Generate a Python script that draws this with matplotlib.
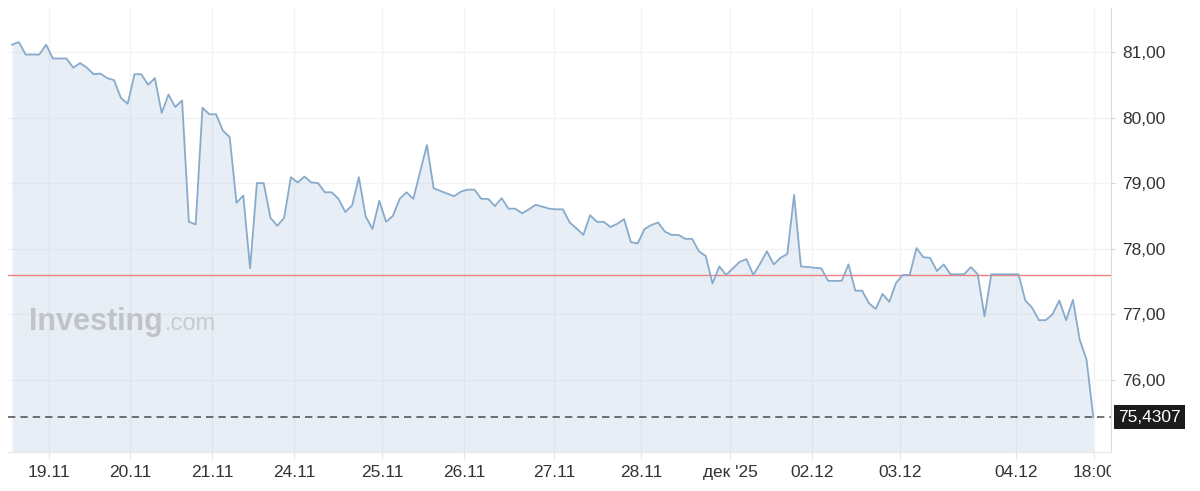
import numpy as np
import matplotlib.pyplot as plt
import matplotlib.transforms as mtransforms
from matplotlib.patches import Rectangle

plt.rcParams['font.family'] = ['Liberation Sans', 'DejaVu Sans']

# USD/RUB style intraday series (one point per step)
prices = [
    81.11, 81.15, 80.96, 80.96, 80.96, 81.11, 80.90, 80.90, 80.90, 80.76,
    80.83, 80.76, 80.66, 80.67, 80.60, 80.57, 80.30, 80.21, 80.66, 80.66,
    80.50, 80.60, 80.07, 80.35, 80.16, 80.26, 78.41, 78.37, 80.15, 80.05,
    80.05, 79.80, 79.70, 78.70, 78.81, 77.70, 79.00, 79.00, 78.47, 78.35,
    78.47, 79.09, 79.01, 79.10, 79.01, 79.00, 78.86, 78.86, 78.76, 78.56,
    78.66, 79.09, 78.49, 78.30, 78.73, 78.41, 78.50, 78.76, 78.86, 78.76,
    79.17, 79.58, 78.92, 78.88, 78.84, 78.80, 78.87, 78.90, 78.90, 78.76,
    78.76, 78.65, 78.77, 78.61, 78.61, 78.54, 78.60, 78.67, 78.64, 78.61,
    78.60, 78.60, 78.40, 78.31, 78.21, 78.51, 78.41, 78.41, 78.33, 78.38,
    78.45, 78.10, 78.08, 78.30, 78.36, 78.40, 78.26, 78.21, 78.21, 78.15,
    78.15, 77.96, 77.89, 77.47, 77.73, 77.60, 77.70, 77.80, 77.84, 77.60,
    77.77, 77.96, 77.76, 77.86, 77.92, 78.82, 77.73, 77.72, 77.71, 77.70,
    77.51, 77.51, 77.51, 77.76, 77.36, 77.36, 77.17, 77.08, 77.31, 77.19,
    77.48, 77.60, 77.60, 78.01, 77.87, 77.86, 77.66, 77.76, 77.61, 77.61,
    77.61, 77.72, 77.61, 76.97, 77.61, 77.61, 77.61, 77.61, 77.61, 77.21,
    77.10, 76.91, 76.91, 77.00, 77.21, 76.91, 77.22, 76.61, 76.31, 75.4307,
]

# date ticks sit between data points (index units)
tick_pos = [5.4, 17.4, 29.4, 41.5, 54.4, 66.5, 79.7, 92.5, 105.6, 117.6, 130.6, 147.6, 159.1]
tick_labels = ['19.11', '20.11', '21.11', '24.11', '25.11', '26.11', '27.11',
               '28.11', "дек '25", '02.12', '03.12', '04.12', '18:00']
y_ticks = [76, 77, 78, 79, 80, 81]

ref_level = 77.6
last_price = prices[-1]

fig = plt.figure(figsize=(12, 4.91), dpi=100)
ax = fig.add_axes([8 / 1200, 39 / 491, 1103 / 1200, 444 / 491])

x = np.arange(len(prices))
ax.fill_between(x, prices, 74.0, color='#a9c2dd', alpha=0.27, lw=0, zorder=2)
ax.plot(x, prices, color='#88aacb', lw=1.3, zorder=4)
ax.axhline(ref_level, color='#f08080', lw=1.0, zorder=3)
ax.axhline(last_price, color='#4a4a4a', lw=1.1, ls=(0, (4.8, 3.3)), zorder=3)

ax.set_xlim(-0.6, 161.6)
ax.set_ylim(74.90, 81.67)

ax.set_xticks(tick_pos)
ax.set_xticklabels(tick_labels)
ax.set_yticks(y_ticks)
ax.set_yticklabels([f'{v:.2f}'.replace('.', ',') for v in y_ticks])
ax.yaxis.tick_right()

ax.grid(True, color='#f3f3f3', lw=1, zorder=1)
ax.set_axisbelow(True)

for side in ['left', 'top']:
    ax.spines[side].set_visible(False)
ax.spines['right'].set_color('#dcdcdc')
ax.spines['bottom'].set_color('#e8e8e8')

ax.tick_params(axis='y', length=3, color='#d6d6d6', pad=5, labelsize=12.5, labelcolor='#333333')
ax.tick_params(axis='x', length=5, color='#e4e4e4', pad=4.5, labelsize=12.5, labelcolor='#333333')

# last label is cut at the axis edge, like in the original
clip = Rectangle((0, 0), 1111 / 1200, 1, transform=fig.transFigure)
ax.get_xticklabels()[-1].set_clip_path(clip)

# current price tag
trans = mtransforms.blended_transform_factory(ax.transAxes, ax.transData)
ax.annotate(f'{last_price:.4f}'.replace('.', ','), xy=(1, last_price), xycoords=trans,
            xytext=(5, 0), textcoords='offset points', ha='left', va='center',
            color='white', fontsize=12.5, annotation_clip=False,
            bbox=dict(boxstyle='square,pad=0.25', fc='#1b1b1b', ec='none'))

# watermark
ax.text(0.019, 0.275, 'Investing', transform=ax.transAxes, fontsize=22,
        fontweight='bold', color='#c0c3c7', ha='left', va='baseline', zorder=3)
ax.text(0.1425, 0.275, '.com', transform=ax.transAxes, fontsize=17,
        color='#c8cbcf', ha='left', va='baseline', zorder=3)

fig.savefig('out.png', dpi=100, facecolor='white')
